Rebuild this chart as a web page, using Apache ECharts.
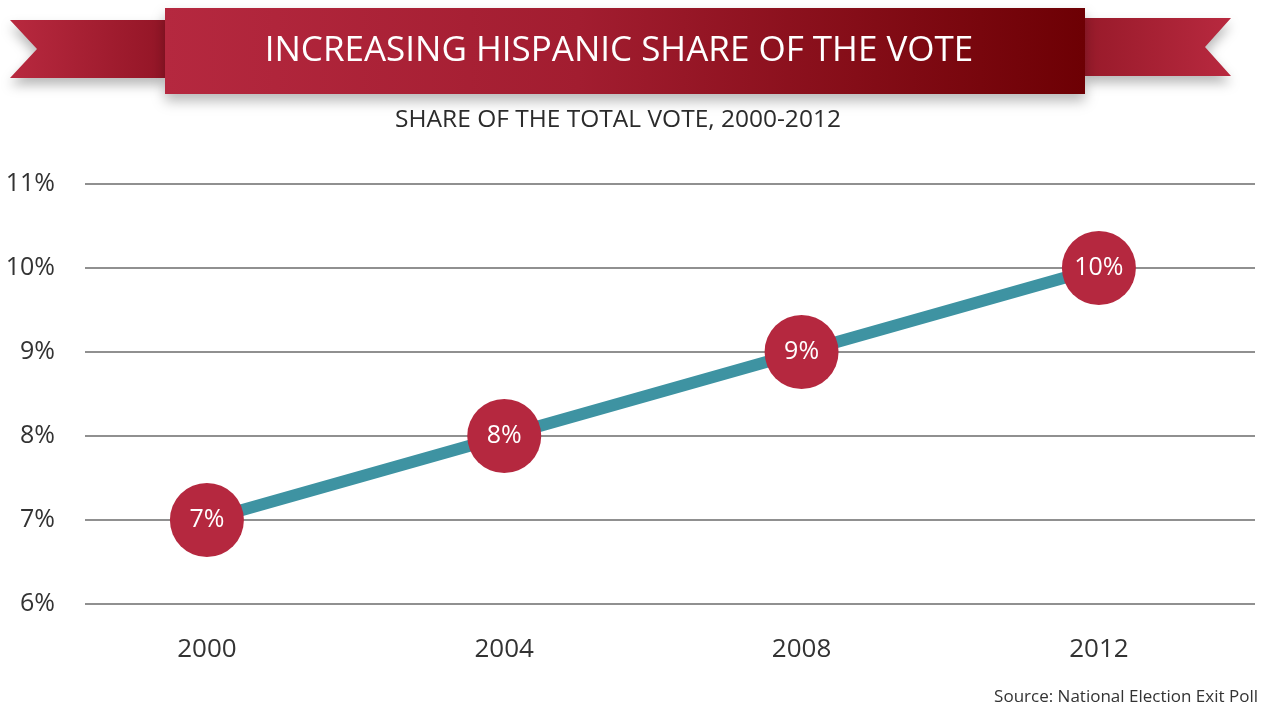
<!DOCTYPE html>
<html>
<head>
<meta charset="utf-8">
<title>Increasing Hispanic Share of the Vote</title>
<script src="https://cdn.jsdelivr.net/npm/echarts@6/dist/echarts.min.js"></script>
<style>
  html, body { margin: 0; padding: 0; background: #ffffff; }
  #chart { width: 1262px; height: 706px; }
</style>
</head>
<body>
<div id="chart"></div>
<script>
// Election years and the Hispanic share of the total vote (%)
const years = [2000, 2004, 2008, 2012];
const hispanicShare = [7, 8, 9, 10];
const yTicks = [6, 7, 8, 9, 10, 11];

const titleText = 'INCREASING HISPANIC SHARE OF THE VOTE';
const subtitleText = 'SHARE OF THE TOTAL VOTE, 2000-2012';
const sourceText = 'Source: National Election Exit Poll';

const FONT = '"Open Sans", "Noto Sans", sans-serif';
const RED = '#b5283f';
const TEAL = '#3e93a2';

const chart = echarts.init(document.getElementById('chart'), null, { renderer: 'canvas' });

const ribbonShadow = {
  shadowBlur: 12,
  shadowOffsetX: 0,
  shadowOffsetY: 7,
  shadowColor: 'rgba(0,0,0,0.28)'
};

const option = {
  backgroundColor: '#ffffff',
  animation: false,
  grid: { left: 85, right: 7, top: 184, bottom: 102, containLabel: false },
  xAxis: {
    type: 'value',
    min: 1998.36,
    max: 2014.1,
    axisLine: { show: false },
    axisTick: { show: false },
    splitLine: { show: false },
    axisLabel: {
      customValues: years,
      formatter: v => String(v),
      fontFamily: FONT,
      fontSize: 26,
      color: '#333333',
      margin: 33
    }
  },
  yAxis: {
    type: 'value',
    min: yTicks[0],
    max: yTicks[yTicks.length - 1],
    interval: 1,
    axisLine: { show: false },
    axisTick: { show: false },
    axisLabel: {
      formatter: '{value}%',
      fontFamily: FONT,
      fontSize: 25,
      color: '#333333',
      margin: 30
    },
    splitLine: { lineStyle: { color: '#6b6b6b', width: 1.5 } }
  },
  series: [{
    type: 'line',
    data: years.map((y, i) => [y, hispanicShare[i]]),
    symbol: 'circle',
    symbolSize: 74,
    itemStyle: { color: RED },
    lineStyle: { color: TEAL, width: 12 },
    label: {
      show: true,
      position: 'inside',
      formatter: p => p.value[1] + '%',
      color: '#ffffff',
      fontFamily: FONT,
      fontSize: 25
    },
    emphasis: { disabled: true },
    z: 3
  }],
  graphic: [
    // left ribbon tail
    {
      type: 'polygon',
      z: 1,
      shape: { points: [[10, 20], [166, 20], [166, 78], [10, 78], [37, 49]] },
      style: Object.assign({
        fill: new echarts.graphic.LinearGradient(0, 0, 1, 0, [
          { offset: 0, color: '#b8293f' },
          { offset: 1, color: '#931526' }
        ])
      }, ribbonShadow)
    },
    // right ribbon tail
    {
      type: 'polygon',
      z: 1,
      shape: { points: [[1084, 18], [1231, 18], [1205, 47], [1231, 76], [1084, 76]] },
      style: Object.assign({
        fill: new echarts.graphic.LinearGradient(0, 0, 1, 0, [
          { offset: 0, color: '#981a2a' },
          { offset: 1, color: '#b8293f' }
        ])
      }, ribbonShadow)
    },
    // main banner
    {
      type: 'rect',
      z: 2,
      shape: { x: 165, y: 8, width: 920, height: 86 },
      style: Object.assign({
        fill: new echarts.graphic.LinearGradient(0, 0, 1, 0, [
          { offset: 0, color: '#b5283f' },
          { offset: 0.45, color: '#a21d30' },
          { offset: 1, color: '#6d0004' }
        ])
      }, ribbonShadow)
    },
    {
      type: 'text',
      z: 3,
      x: 619,
      y: 51,
      style: {
        text: titleText,
        fill: '#ffffff',
        font: '35px ' + FONT,
        align: 'center',
        verticalAlign: 'middle'
      }
    },
    {
      type: 'text',
      z: 3,
      x: 618,
      y: 120,
      style: {
        text: subtitleText,
        fill: '#2b2b2b',
        font: '24.5px ' + FONT,
        align: 'center',
        verticalAlign: 'middle'
      }
    },
    {
      type: 'text',
      z: 3,
      x: 1258,
      y: 697,
      style: {
        text: sourceText,
        fill: '#333333',
        font: '17px ' + FONT,
        align: 'right',
        verticalAlign: 'middle'
      }
    }
  ]
};

chart.setOption(option);
</script>
</body>
</html>
